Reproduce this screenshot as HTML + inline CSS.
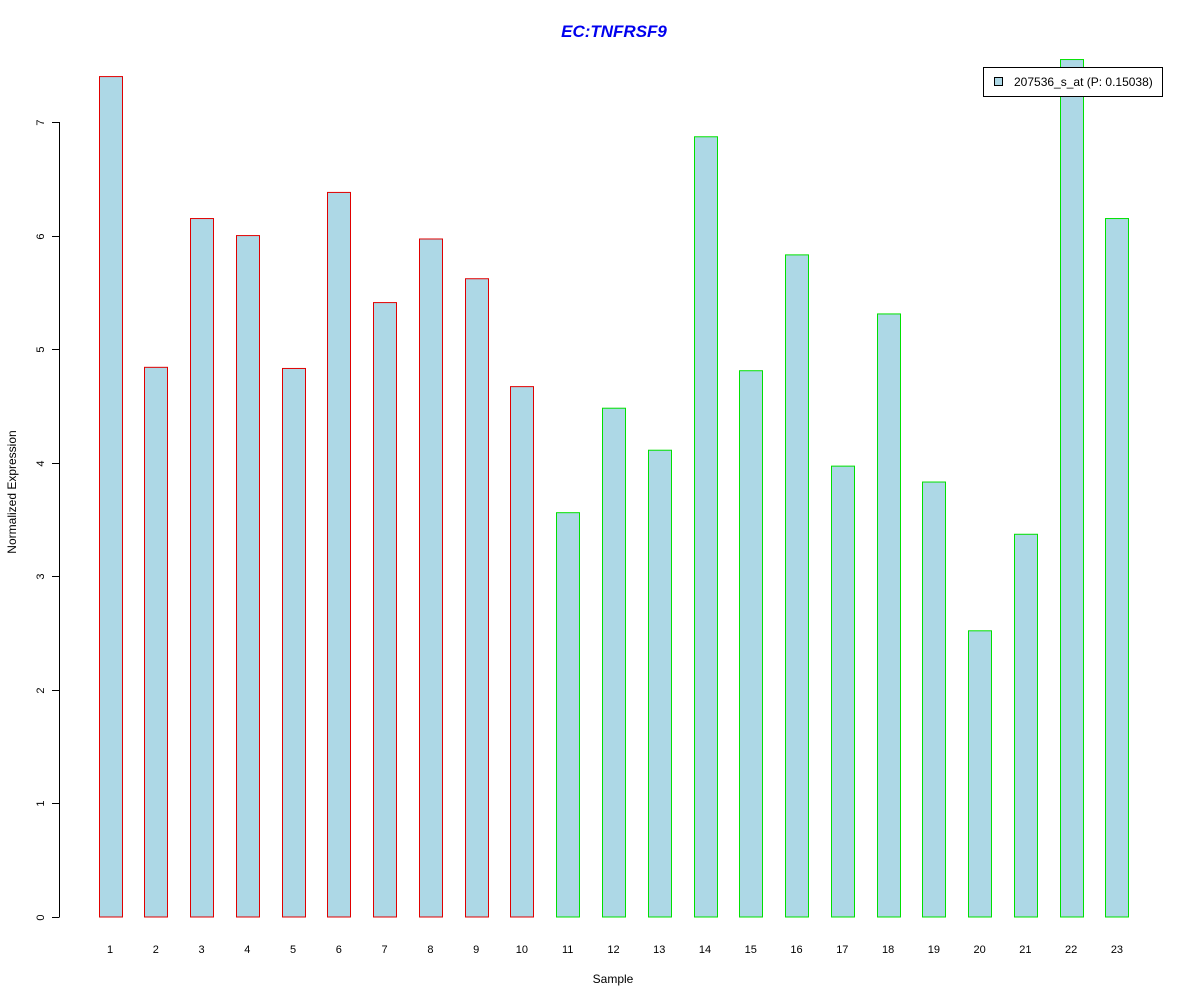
<!DOCTYPE html>
<html><head><meta charset="utf-8"><style>
body{margin:0;background:#fff;}
svg text{font-family:"Liberation Sans",Arial,sans-serif;}
</style></head><body>
<svg id="chart" width="1200" height="1000" viewBox="0 0 1200 1000" xmlns="http://www.w3.org/2000/svg">
<rect width="1200" height="1000" fill="#fff"/>
<text x="614" y="37" text-anchor="middle" font-size="17" font-weight="bold" font-style="italic" fill="#0000ee">EC:TNFRSF9</text>
<g id="yaxis"></g>
<g id="bars"></g>
<g id="xlabels"></g>
<text transform="translate(16,492) rotate(-90)" text-anchor="middle" font-size="12">Normalized Expression</text>
<text x="613" y="983" text-anchor="middle" font-size="12">Sample</text>
<g>
<rect x="983.5" y="67.5" width="179" height="29" fill="#fff" stroke="#000"/>
<rect x="994.5" y="77.5" width="8" height="8" fill="#add8e6" stroke="#000"/>
<text x="1014" y="86" font-size="12">207536_s_at (P: 0.15038)</text>
</g>
</svg>
<script>
const categories = ["1","2","3","4","5","6","7","8","9","10","11","12","13","14","15","16","17","18","19","20","21","22","23"];
const values = [7.40,4.84,6.15,6.00,4.83,6.38,5.41,5.97,5.62,4.67,3.56,4.48,4.11,6.87,4.81,5.83,3.97,5.31,3.83,2.52,3.37,7.55,6.15];
const groups = ["a","a","a","a","a","a","a","a","a","a","b","b","b","b","b","b","b","b","b","b","b","b","b"];
const yTicks = [0,1,2,3,4,5,6,7];
const NS="http://www.w3.org/2000/svg";
const y0=917, unit=113.57;
function yScale(v){return y0-v*unit;}
function xScale(i){return 110+i*45.77;}
function mk(tag,attrs,parent){const e=document.createElementNS(NS,tag);for(const k in attrs)e.setAttribute(k,attrs[k]);parent.appendChild(e);return e;}
const ya=document.getElementById('yaxis');
const al=mk('line',{x1:59.5,x2:59.5,y1:yScale(yTicks[0]),y2:yScale(yTicks[yTicks.length-1]),stroke:'#000'},ya);


yTicks.forEach(t=>{
  const y=Math.round(yScale(t))+0.5;
  const l=mk('line',{x1:52,x2:59.5,y1:y,y2:y,stroke:'#000'},ya);
  
  
  const tx=mk('text',{transform:`translate(44,${y}) rotate(-90)`,'text-anchor':'middle','font-size':'11'},ya);
  
  
  tx.textContent=t;
});
const bg=document.getElementById('bars'), xl=document.getElementById('xlabels');
values.forEach((v,i)=>{
  const cx=xScale(i), top=yScale(v);
  const r=mk('rect',{x:Math.round(cx-11.5)+0.5,y:top,width:23,height:y0-top,fill:'#add8e6',stroke:groups[i]==='a'?'#e00000':'#00e000'},bg);
  
  
  const t=mk('text',{x:cx,y:953,'text-anchor':'middle','font-size':'11'},xl);
  
  
  t.textContent=categories[i];
});
</script>
</body></html>
